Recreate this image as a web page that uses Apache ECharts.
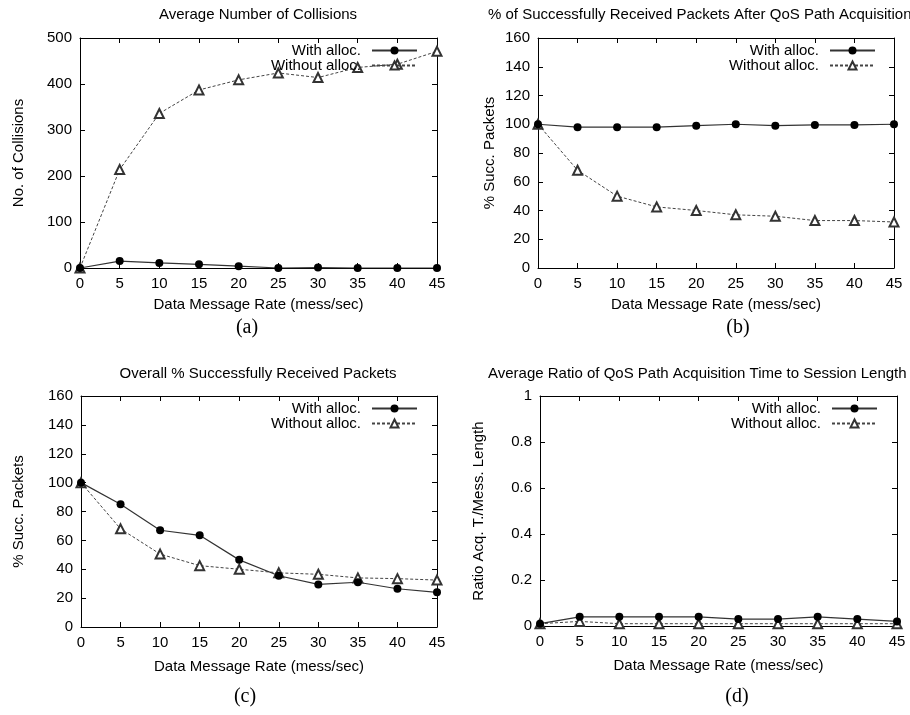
<!DOCTYPE html>
<html>
<head>
<meta charset="utf-8">
<script src="https://cdn.jsdelivr.net/npm/echarts@6/dist/echarts.min.js"></script>
<style>
  html, body { margin: 0; padding: 0; background: #fff; }
  #main { width: 910px; height: 715px; }
</style>
</head>
<body>
<div id="main"></div>
<script>
(function(){
    var myChart = echarts.init(document.getElementById('main'));

    var rates = [0, 5, 10, 15, 20, 25, 30, 35, 40, 45];

    // (a) collisions
    var collWith    = [0, 15, 11, 8, 4, 0, 1, 0, 0, 0];
    var collWithout = [0, 214, 336, 387, 409, 424, 414, 436, 443, 471];
    // (b) % received after QoS path acquisition
    var qosWith     = [100, 98, 98, 98, 99, 100, 99, 99.5, 99.5, 100];
    var qosWithout  = [100, 68, 50, 42.5, 40, 37, 36, 33, 33, 32];
    // (c) overall % received
    var allWith     = [100, 85, 67, 63.5, 46.5, 35.5, 29.5, 31, 26.5, 24];
    var allWithout  = [100, 68, 50.5, 42.5, 40, 37.5, 36.5, 34, 33.5, 32.5];
    // (d) ratio acquisition time / session length
    var ratioWith    = [0.01, 0.04, 0.04, 0.04, 0.04, 0.03, 0.03, 0.04, 0.03, 0.02];
    var ratioWithout = [0.01, 0.02, 0.01, 0.01, 0.01, 0.01, 0.01, 0.01, 0.01, 0.01];

    var titles = [
        'Average Number of Collisions',
        '% of Successfully Received Packets After QoS Path Acquisition',
        'Overall % Successfully Received Packets',
        'Average Ratio of QoS Path Acquisition Time to Session Length'
    ];
    var yNames = ['No. of Collisions', '% Succ. Packets', '% Succ. Packets', 'Ratio Acq. T./Mess. Length'];
    var yMax = [500, 160, 160, 1];
    var yStep = [100, 20, 20, 0.2];
    var panelTags = ['(a)', '(b)', '(c)', '(d)'];
    var withData = [collWith, qosWith, allWith, ratioWith];
    var withoutData = [collWithout, qosWithout, allWithout, ratioWithout];

    var FONT = 'Liberation Sans';

    var grids = [
        { left: 80,  top: 38,  width: 357, height: 230 },
        { left: 538, top: 38,  width: 356, height: 230 },
        { left: 81,  top: 396, width: 356, height: 231 },
        { left: 540, top: 396, width: 357, height: 230 }
    ];
    var yNameGap = [54, 41, 55, 54];
    var titlePos = [
        { left: 258, textAlign: 'center', top: 7 },
        { left: 488, textAlign: 'left', top: 7 },
        { left: 258, textAlign: 'center', top: 366 },
        { left: 488, textAlign: 'left', top: 366 }
    ];
    var legendPos = [
        { right: 492, top: 43 },
        { right: 34, top: 43 },
        { right: 492, top: 401 },
        { right: 32, top: 401 }
    ];
    var tagPos = [[247, 328], [738, 328], [245, 697], [737, 697]];

    var axisLine = { show: true, onZero: false, lineStyle: { color: '#000', width: 1 } };
    var tick = { show: true, inside: true, length: 5, lineStyle: { color: '#000' } };
    var lbl = { fontFamily: FONT, fontSize: 15, color: '#000', margin: 8 };

    var xAxes = [], yAxes = [], series = [], title = [], legend = [], graphic = [];

    for (var i = 0; i < 4; i++) {
        title.push({
            text: titles[i],
            left: titlePos[i].left,
            top: titlePos[i].top,
            textAlign: titlePos[i].textAlign,
            padding: 0,
            textStyle: { fontFamily: FONT, fontSize: 15, fontWeight: 'normal', color: '#000' }
        });
        xAxes.push({
            type: 'value', gridIndex: i, position: 'bottom', min: 0, max: 45, interval: 5,
            name: 'Data Message Rate (mess/sec)', nameLocation: 'middle', nameGap: i < 2 ? 29 : 32,
            nameTextStyle: { fontFamily: FONT, fontSize: 15, color: '#000' },
            axisLine: axisLine, axisTick: tick, axisLabel: lbl, splitLine: { show: false }
        });
        yAxes.push({
            type: 'value', gridIndex: i, position: 'left', min: 0, max: yMax[i], interval: yStep[i],
            name: yNames[i], nameLocation: 'middle', nameGap: yNameGap[i], nameRotate: 90,
            nameTextStyle: { fontFamily: FONT, fontSize: 15, color: '#000' },
            axisLine: axisLine, axisTick: tick, axisLabel: lbl, splitLine: { show: false }
        });
        legend.push({
            data: ['With alloc.', 'Without alloc.'],
            orient: 'vertical', align: 'right',
            right: legendPos[i].right, top: legendPos[i].top,
            padding: 0, itemWidth: 45, itemHeight: 10, itemGap: 0,
            selectedMode: false,
            textStyle: { fontFamily: FONT, fontSize: 15, color: '#000', lineHeight: 15, padding: [0, 6, 0, 0] }
        });
        graphic.push({
            type: 'text', x: tagPos[i][0], y: tagPos[i][1],
            style: { text: panelTags[i], font: '20px "Liberation Serif"', fill: '#000', align: 'center', verticalAlign: 'middle' }
        });
    }
    // mirror axes on top and right, ticks only
    for (var j = 0; j < 4; j++) {
        xAxes.push({
            type: 'value', gridIndex: j, position: 'top', min: 0, max: 45, interval: 5,
            axisLine: axisLine, axisTick: tick, axisLabel: { show: false }, splitLine: { show: false }
        });
        yAxes.push({
            type: 'value', gridIndex: j, position: 'right', min: 0, max: yMax[j], interval: yStep[j],
            axisLine: axisLine, axisTick: tick, axisLabel: { show: false }, splitLine: { show: false }
        });
    }

    function pairs(ys) {
        return rates.map(function (x, k) { return [x, ys[k]]; });
    }

    for (var s = 0; s < 4; s++) {
        series.push({
            name: 'Without alloc.', type: 'line', xAxisIndex: s, yAxisIndex: s,
            data: pairs(withoutData[s]),
            symbol: 'emptyTriangle', symbolSize: 9,
            itemStyle: { color: '#333', borderWidth: 1 },
            lineStyle: { color: '#444', width: 1, type: [3, 2] },
            animation: false, z: 2
        });
        series.push({
            name: 'With alloc.', type: 'line', xAxisIndex: s, yAxisIndex: s,
            data: pairs(withData[s]),
            symbol: 'circle', symbolSize: 8,
            itemStyle: { color: '#000' },
            lineStyle: { color: '#333', width: 1.2 },
            animation: false, z: 3
        });
    }

    var option = {
        backgroundColor: '#fff',
        animation: false,
        title: title,
        legend: legend,
        grid: grids,
        xAxis: xAxes,
        yAxis: yAxes,
        series: series,
        graphic: graphic
    };

    myChart.setOption(option);
})();
</script>
</body>
</html>
